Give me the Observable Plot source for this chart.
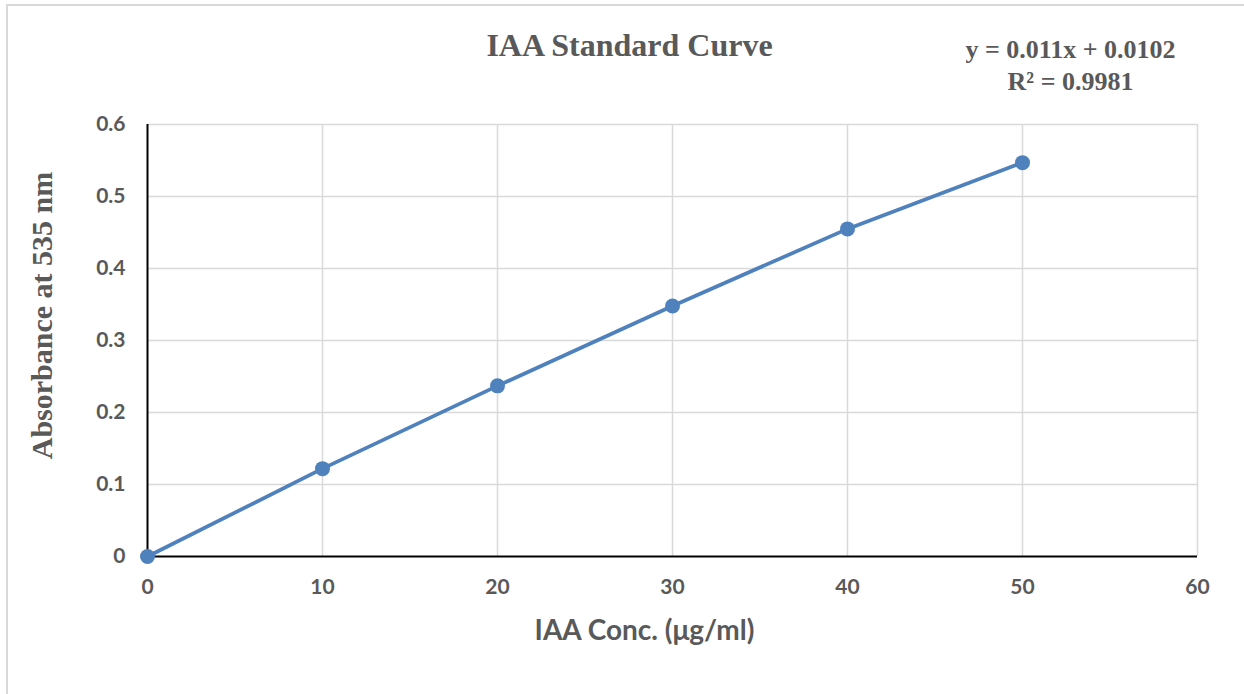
<!DOCTYPE html>
<html><head><meta charset="utf-8">
<script src="https://cdn.jsdelivr.net/npm/d3@7"></script>
<script src="https://cdn.jsdelivr.net/npm/@observablehq/plot@0.6"></script>
<style>
html,body{margin:0;padding:0;background:#fff;}
#wrap{position:relative;width:1244px;height:694px;overflow:hidden;}
#border{position:absolute;left:6px;top:4px;right:-10px;bottom:-10px;border-top:2px solid #d9d9d9;border-left:2px solid #d9d9d9;}
#chart{position:absolute;left:0;top:0;}
</style></head><body>
<div id="wrap"><div id="border"></div><div id="chart"></div></div>
<script>
const concentration = [0, 10, 20, 30, 40, 50];
const absorbance = [0, 0.122, 0.237, 0.348, 0.455, 0.547];
const xTicks = [0, 10, 20, 30, 40, 50, 60];
const yTicks = [0, 0.1, 0.2, 0.3, 0.4, 0.5, 0.6];
const titleText = "IAA Standard Curve";
const equationText = "y = 0.011x + 0.0102\nR² = 0.9981";
const xLabel = "IAA Conc. (μg/ml)";
const yLabel = "Absorbance at 535 nm";

const data = concentration.map((x, i) => ({x, y: absorbance[i]}));
const serif = "'Liberation Serif', 'Times New Roman', serif";
const textGray = "#595959";
const blue = "#4f81bd";

const chart = Plot.plot({
  width: 1244,
  height: 694,
  marginLeft: 147,
  marginRight: 47,
  marginTop: 124,
  marginBottom: 138,
  style: {fontFamily: "Lato, 'Open Sans', sans-serif", fontWeight: "bold", background: "transparent", overflow: "visible"},
  x: {domain: [0, 60]},
  y: {domain: [0, 0.6]},
  marks: [
    Plot.gridX(xTicks.slice(1), {stroke: "#d9d9d9", strokeOpacity: 1, strokeWidth: 1.5}),
    Plot.gridY(yTicks.slice(1), {stroke: "#d9d9d9", strokeOpacity: 1, strokeWidth: 1.5}),
    Plot.axisX(xTicks, {tickSize: 0, tickPadding: 23, fontSize: 21, color: textGray, label: null}),
    Plot.axisY(yTicks, {tickSize: 0, tickPadding: 22, fontSize: 21, color: textGray, label: null, tickFormat: d => String(d)}),
    Plot.ruleX([0], {stroke: "#000", strokeWidth: 2}),
    Plot.ruleY([0], {stroke: "#000", strokeWidth: 2}),
    Plot.line(data, {x: "x", y: "y", stroke: blue, strokeWidth: 3.75}),
    Plot.dot(data, {x: "x", y: "y", r: 7.5, fill: blue, stroke: "none"}),
    Plot.text([titleText], {text: d => d, frameAnchor: "top", dx: -43, dy: -79, fontSize: 32, fontWeight: "bold", fontFamily: serif, fill: textGray, lineAnchor: "middle"}),
    Plot.text([equationText], {text: d => d, frameAnchor: "top-right", textAnchor: "middle", dx: -127, dy: -61, fontSize: 26, lineHeight: 1.23, fontWeight: "bold", fontFamily: serif, fill: textGray, lineAnchor: "middle"}),
    Plot.text([yLabel], {text: d => d, frameAnchor: "left", textAnchor: "middle", rotate: -90, dx: -105, dy: -25, fontSize: 30, fontWeight: "bold", fontFamily: serif, fill: textGray, lineAnchor: "middle"}),
    Plot.text([xLabel], {text: d => d, frameAnchor: "bottom", textAnchor: "middle", dx: -28, dy: 75, fontSize: 28, fontWeight: "bold", fill: textGray, lineAnchor: "middle"})
  ]
});
document.getElementById("chart").appendChild(chart);
</script>
</body></html>
